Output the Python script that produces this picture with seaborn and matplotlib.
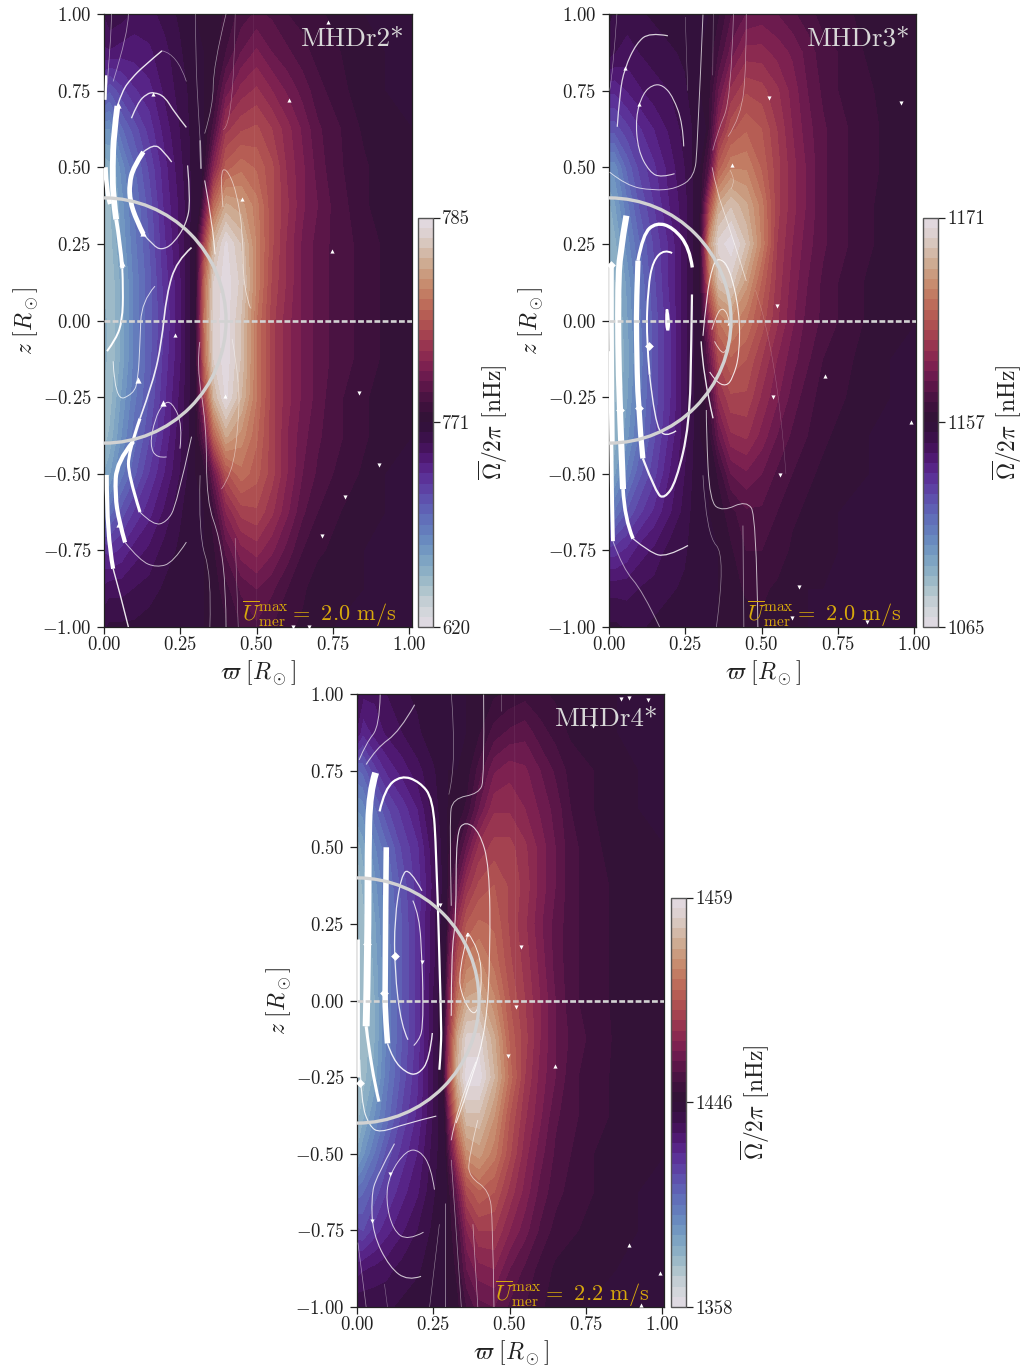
import numpy as np
import matplotlib
matplotlib.use('Agg')
import matplotlib.pyplot as plt
from matplotlib.colors import TwoSlopeNorm
from matplotlib.patches import Arc, PathPatch
from matplotlib.path import Path
import seaborn as sns

# grid of the rotation maps, values are position on the colour bar in percent
varpi = [0, .02, .06, .1, .15, .2, .25, .3, .33, .36, .4, .45, .5, .55, .6, .65, .7, .75, .85, .92, 1.01]
z_rows = [1, .875, .75, .625, .5, .375, .25, .125, 0, -.125, -.25, -.375, -.5, -.625, -.75, -.875, -1]

omega_r2 = [
    [45, 47, 46, 44, 44, 46, 48, 50, 51, 51, 53, 56, 58, 57, 55, 54, 53, 52, 50, 50, 50],
    [42, 42, 41, 41, 42, 44, 47, 50, 50, 51, 55, 60, 63, 60, 58, 56, 54, 53, 51, 50, 50],
    [32, 30, 34, 37, 39, 43, 46, 49, 50, 52, 61, 66, 68, 65, 62, 59, 56, 54, 51, 50, 50],
    [20, 20, 27, 31, 36, 41, 45, 49, 50, 56, 69, 72, 73, 70, 66, 62, 58, 56, 52, 51, 50],
    [13, 14, 21, 27, 33, 39, 44, 49, 52, 65, 76, 79, 77, 73, 67, 63, 59, 56, 53, 51, 50],
    [10, 12, 19, 25, 31, 38, 43, 49, 60, 78, 88, 86, 81, 73, 68, 63, 60, 57, 53, 51, 50],
    [10, 11, 18, 24, 30, 37, 43, 50, 72, 90, 98, 92, 82, 73, 67, 62, 59, 57, 54, 52, 50],
    [11, 10, 16, 23, 29, 36, 42, 50, 78, 95, 99, 94, 82, 72, 67, 62, 59, 57, 54, 52, 50],
    [14, 10, 16, 23, 29, 35, 42, 51, 80, 96, 99, 92, 80, 71, 66, 62, 59, 57, 54, 52, 50],
    [14, 10, 16, 23, 29, 36, 42, 51, 78, 95, 99, 92, 80, 71, 66, 62, 59, 57, 54, 52, 50],
    [11, 11, 18, 24, 30, 37, 43, 50, 72, 90, 98, 90, 80, 71, 66, 62, 59, 56, 53, 51, 50],
    [11, 13, 20, 26, 32, 38, 44, 50, 60, 77, 88, 84, 78, 71, 65, 61, 58, 56, 53, 51, 50],
    [15, 17, 24, 29, 35, 40, 45, 50, 51, 61, 74, 79, 76, 71, 65, 60, 57, 55, 52, 50, 50],
    [24, 26, 31, 35, 39, 43, 47, 50, 50, 54, 65, 71, 72, 68, 63, 58, 55, 53, 51, 50, 50],
    [37, 36, 38, 41, 43, 46, 48, 50, 50, 52, 58, 64, 66, 63, 59, 55, 53, 52, 50, 50, 50],
    [43, 44, 44, 45, 46, 48, 49, 50, 50, 51, 54, 58, 60, 58, 55, 53, 51, 51, 50, 50, 50],
    [47, 48, 48, 48, 49, 49, 50, 50, 50, 51, 52, 55, 57, 55, 53, 52, 51, 50, 50, 50, 50],
]
omega_r3 = [
    [48, 47, 46, 47, 48, 49, 49, 50, 50, 52, 57, 60, 61, 60, 58, 56, 54, 53, 52, 51, 50],
    [46, 45, 44, 45, 46, 47, 48, 50, 51, 55, 61, 66, 66, 64, 62, 59, 56, 55, 52, 51, 50],
    [38, 38, 40, 42, 44, 45, 47, 50, 52, 60, 68, 72, 71, 68, 64, 60, 57, 55, 53, 51, 50],
    [31, 31, 34, 37, 40, 43, 46, 49, 53, 66, 74, 77, 75, 70, 65, 61, 58, 56, 53, 52, 50],
    [21, 21, 28, 33, 37, 41, 45, 50, 58, 76, 82, 82, 77, 71, 66, 62, 58, 56, 53, 52, 50],
    [14, 17, 24, 30, 35, 40, 44, 51, 72, 88, 92, 88, 81, 71, 66, 62, 58, 56, 53, 51, 50],
    [13, 14, 21, 27, 33, 38, 44, 53, 85, 96, 99, 92, 82, 70, 65, 61, 58, 56, 53, 51, 50],
    [14, 12, 18, 25, 32, 38, 44, 52, 78, 92, 94, 86, 77, 69, 64, 60, 57, 55, 52, 51, 50],
    [14, 11, 17, 24, 31, 37, 44, 50, 67, 80, 84, 80, 74, 68, 63, 59, 57, 55, 52, 51, 50],
    [13, 11, 16, 23, 31, 37, 44, 50, 60, 73, 77, 75, 70, 65, 61, 58, 55, 54, 51, 50, 50],
    [20, 12, 17, 24, 31, 37, 44, 50, 55, 67, 72, 72, 67, 63, 59, 56, 54, 53, 51, 50, 50],
    [15, 13, 19, 25, 32, 38, 44, 50, 52, 60, 67, 68, 64, 60, 57, 55, 53, 52, 50, 50, 50],
    [13, 17, 23, 29, 34, 40, 45, 50, 50, 53, 60, 62, 60, 57, 55, 53, 52, 51, 50, 50, 50],
    [24, 25, 30, 34, 38, 42, 46, 50, 50, 51, 54, 57, 57, 55, 53, 52, 51, 50, 50, 50, 50],
    [36, 36, 38, 41, 43, 46, 47, 50, 50, 50, 52, 55, 55, 54, 52, 51, 51, 50, 50, 50, 50],
    [44, 44, 44, 45, 46, 47, 48, 49, 50, 50, 51, 53, 53, 52, 51, 50, 50, 50, 50, 50, 50],
    [48, 48, 47, 47, 48, 49, 49, 50, 50, 50, 51, 51, 52, 51, 51, 50, 50, 50, 50, 50, 50],
]
omega_r4 = [
    [46, 43, 43, 45, 47, 48, 49, 50, 50, 50, 51, 52, 53, 54, 53, 52, 51, 51, 50, 50, 50],
    [42, 38, 41, 43, 45, 47, 49, 50, 50, 50, 52, 56, 58, 59, 56, 54, 52, 51, 50, 50, 50],
    [27, 28, 34, 38, 41, 44, 47, 50, 50, 51, 56, 62, 64, 63, 60, 57, 54, 53, 51, 50, 50],
    [20, 21, 27, 32, 36, 40, 46, 51, 51, 53, 60, 67, 67, 65, 62, 59, 55, 53, 51, 50, 50],
    [13, 16, 22, 27, 33, 37, 44, 52, 54, 60, 68, 71, 71, 68, 64, 60, 56, 54, 51, 51, 50],
    [9, 13, 19, 25, 31, 36, 43, 54, 60, 68, 73, 75, 72, 69, 64, 60, 56, 54, 52, 51, 50],
    [12, 11, 17, 24, 30, 36, 44, 56, 68, 75, 78, 77, 72, 68, 63, 59, 56, 54, 52, 51, 50],
    [14, 10, 16, 23, 30, 36, 44, 60, 74, 81, 83, 79, 73, 69, 64, 59, 56, 54, 52, 51, 50],
    [14, 10, 15, 23, 30, 36, 45, 64, 80, 88, 89, 83, 75, 70, 65, 60, 56, 54, 52, 51, 50],
    [12, 10, 15, 23, 30, 36, 45, 68, 88, 96, 96, 88, 77, 71, 65, 60, 57, 55, 52, 51, 50],
    [10, 11, 16, 24, 31, 37, 45, 70, 90, 99, 99, 90, 79, 70, 64, 60, 56, 54, 52, 51, 50],
    [11, 14, 20, 26, 33, 38, 45, 62, 83, 92, 92, 85, 75, 68, 63, 58, 56, 54, 52, 51, 50],
    [15, 19, 25, 31, 36, 40, 46, 56, 72, 84, 86, 81, 73, 66, 61, 57, 55, 53, 51, 51, 50],
    [26, 27, 31, 35, 39, 42, 47, 51, 61, 73, 77, 75, 69, 64, 59, 56, 54, 53, 51, 50, 50],
    [33, 32, 36, 39, 42, 45, 48, 51, 55, 65, 70, 70, 65, 61, 57, 54, 53, 52, 51, 50, 50],
    [41, 42, 43, 44, 46, 47, 49, 51, 53, 60, 64, 65, 60, 57, 54, 52, 51, 51, 50, 50, 50],
    [47, 47, 47, 47, 48, 49, 49, 50, 52, 55, 59, 60, 57, 55, 53, 51, 51, 50, 50, 50, 50],
]

cbar_r2 = [620, 771, 785]
cbar_r3 = [1065, 1157, 1171]
cbar_r4 = [1358, 1446, 1459]

# streamlines as (varpi, z)
paths_r2 = [
    [(.044, .70), (.032, .61), (.028, .50), (.03, .40), (.04, .33)],
    [(.04, .33), (.052, .26), (.06, .17)],
    [(.06, .17), (.063, .10), (.06, 0), (.04, -.06), (.01, -.1)],
    [(.044, .70), (.06, .75), (.09, .79), (.13, .83), (.19, .88)],
    [(.19, .88), (.24, .87), (.27, .78)],
    [(.007, .8), (.005, .72)],
    [(.005, .50), (.008, .42), (.02, .38)],
    [(.09, .66), (.11, .71), (.14, .74), (.165, .745), (.2, .73), (.23, .68), (.27, .63)],
    [(.222, .517), (.194, .555), (.162, .577), (.129, .55)],
    [(.129, .55), (.096, .50), (.083, .446), (.085, .39), (.107, .326), (.129, .282)],
    [(.129, .282), (.162, .244), (.189, .23), (.227, .25), (.27, .315), (.284, .39), (.274, .506)],
    [(.318, .495), (.315, .588)],
    [(.315, .588), (.31, .67), (.30, .86), (.30, 1.0)],
    [(.33, .457), (.358, .304), (.364, .216)],
    [(.33, .61), (.358, .70), (.358, .83), (.40, 1.0)],
    [(.39, .623), (.425, .63), (.43, 1.0)],
    [(.03, .78), (.08, .94), (.08, 1)],
    [(.005, .72), (.02, .85), (.025, 1.0)],
    [(.39, .37), (.38, .48), (.40, .50), (.434, .424), (.456, .282), (.456, .107), (.48, .04)],
    [(.287, .238), (.238, .195), (.205, .085), (.189, -.07), (.162, -.198), (.118, -.32)],
    [(.118, -.32), (.08, -.43), (.08, -.505), (.118, -.625)],
    [(.118, -.625), (.162, -.669), (.205, -.658), (.238, -.603), (.287, -.379)],
    [(.096, -.395), (.041, -.46), (.036, -.57), (.05, -.658), (.069, -.724)],
    [(.069, -.724), (.118, -.784), (.172, -.806), (.227, -.79), (.27, -.723)],
    [(.009, -.504), (.009, -.70), (.03, -.81)],
    [(.03, -.81), (.052, -.888), (.08, -1)],
    [(.03, -.133), (.036, -.264), (.096, -.24), (.112, -.193), (.118, -.068), (.123, .063), (.167, .112)],
    [(.205, -.445), (.172, -.45), (.15, -.406), (.167, -.32), (.194, -.27), (.222, -.264), (.258, -.34), (.249, -.418)],
    [(.314, -.07), (.303, -.145), (.336, -.34), (.336, -.59), (.38, -.71), (.40, -.88), (.40, -1)],
    [(.315, -.505), (.309, -.70), (.353, -.83), (.347, -1)],
    [(.43, -.71), (.44, -1)],
    [(.42, -.06), (.445, -.2), (.44, -.35), (.42, -.5), (.385, -.55)],
    [(.49, 1), (.5, 0), (.5, -1)],
]
widths_r2 = [4.2, 2.8, 1.4, 1.0, .5, 1.6, 3.2, 1.0, 1.0, 3.4, .9, 1.2, .5, .8, .5, .4, .6, .5, .6, 1.2, 2.2,
             .7, 3.0, .7, 3.0, 1.0, .7, .7, .6, .5, .4, .5, .3]
alphas_r2 = [1, 1, 1, .9, .5, 1, 1, .85, .85, 1, .8, .6, .45, .8, .55, .4, .5, .55, .6, .9, 1, .75, 1, .7, 1, .9,
             .75, .75, .65, .55, .5, .5, .12]
arrows_up_r2 = [(.733, .974), (.605, .718), (.748, .228), (.161, .74), (.451, .395), (.234, -.046), (.396, -.246)]
arrows_dn_r2 = [(.835, -.235), (.90, -.472), (.79, -.576), (.713, -.702), (.618, -1), (.672, -1)]
arrows_big_r2 = [(.047, .703), (.06, .186), (.129, .285), (.05, -.663), (.194, -.27), (.112, -.193)]

paths_r3 = [
    [(.026, 1.0), (.012, .80), (.002, .75)],
    [(.027, .632), (.035, .741), (.051, .823), (.09, .905), (.133, .94), (.193, .929)],
    [(.245, .568), (.242, .643), (.21, .73), (.177, .768), (.144, .77), (.111, .741), (.087, .664), (.095, .555),
     (.133, .484), (.171, .466), (.215, .479)],
    [(.002, .484), (.057, .44), (.144, .424), (.22, .43), (.28, .468), (.29, .566), (.308, .998)],
    [(.008, .184), (.008, .08), (.008, -.10), (.011, -.40)],
    [(.057, .342), (.035, .216), (.03, .107), (.03, -.07), (.035, -.286), (.046, -.55)],
    [(.046, -.55), (.051, -.647), (.079, -.712)],
    [(.079, -.712), (.133, -.756), (.188, -.773), (.259, -.734)],
    [(.273, .173), (.264, .238), (.21, .304), (.155, .32), (.111, .282), (.095, .195)],
    [(.095, .195), (.09, .063), (.09, -.05), (.095, -.286), (.111, -.45)],
    [(.111, -.45), (.155, -.565), (.182, -.581), (.22, -.527), (.264, -.341), (.27, -.068), (.272, .085)],
    [(.207, .22), (.182, .233), (.144, .195), (.128, .107), (.122, -.05), (.133, -.177)],
    [(.133, -.177), (.15, -.33), (.182, -.385), (.22, -.36)],
    [(.19, .036), (.186, 0), (.193, -.042), (.198, 0), (.19, .036)],
    [(.337, -.03), (.352, .02), (.373, .044), (.395, .009), (.395, -.068), (.373, -.122), (.346, -.068)],
    [(.308, -.05), (.319, .074), (.34, .184), (.362, .205), (.395, .173), (.428, .03), (.428, -.111), (.406, -.188),
     (.384, -.215), (.351, -.2), (.33, -.168)],
    [(.302, -.068), (.308, -.177), (.341, -.319)],
    [(.319, -.292), (.319, -.36), (.33, -.592), (.373, -.623), (.45, -.587), (.483, -.636), (.488, -1)],
    [(.308, -.505), (.319, -.70), (.384, -.767), (.352, -1)],
    [(.439, -.669), (.442, -1)],
    [(.005, -.10), (.007, -.5), (.013, -.72)],
    [(.013, -.72), (.046, -.81), (.11, -.882), (.166, -1)],
    [(.34, .8), (.342, 1)],
    [(.39, .6), (.433, .664), (.45, .828), (.45, 1)],
    [(.34, .555), (.357, .62), (.40, .72), (.408, 1)],
    [(.338, .5), (.352, .424), (.395, .304), (.45, .129)],
    [(.397, .49), (.417, .457), (.40, .43)],
    [(.48, .1), (.55, -.1), (.58, -.5)],
    [(.258, .75), (.25, .99)],
]
widths_r3 = [.4, .9, .8, .7, 3.4, 4.4, 2.6, .9, 2.4, 3.8, 1.6, 1.4, 1.0, 1.8, .7, .8, 1.0, .7, .5, .6, 2.8, .7,
             .4, .5, .5, .6, .4, .3, .4]
alphas_r3 = [.5, .8, .8, .7, 1, 1, 1, .85, 1, 1, .95, 1, .9, 1, .7, .85, .9, .7, .45, .5, 1, .55, .4, .5, .5, .6,
             .5, .3, .4]
arrows_up_r3 = [(.051, .823), (.098, .706), (.403, .506), (.708, -.18), (.991, -.332), (.395, -.008)]
arrows_dn_r3 = [(.524, .725), (.956, .708), (.552, .047), (.537, -.251), (.56, -.503), (.623, -.869), (.60, -.97),
                (.845, -.984)]
arrows_big_r3 = [(.008, .181), (.13, -.084), (.097, -.286), (.035, -.292)]

paths_r4 = [
    [(.007, .785), (.03, .84), (.074, .894), (.076, .998)],
    [(.03, .77), (.063, .823), (.14, .878), (.189, .965)],
    [(.061, .743), (.041, .68), (.036, .484), (.036, .178), (.03, -.084)],
    [(.03, -.084), (.047, -.226), (.072, -.33)],
    [(.074, .617), (.091, .692), (.145, .735), (.205, .714), (.249, .659), (.26, .484), (.276, -.062), (.276, -.15),
     (.27, -.226)],
    [(.096, .50), (.091, .025), (.094, -.062), (.10, -.14)],
    [(.10, -.14), (.118, -.193), (.162, -.237), (.2, -.243), (.238, -.193), (.247, -.106)],
    [(.213, .358), (.172, .432), (.145, .408), (.123, .266), (.123, .102), (.145, -.084), (.167, -.128)],
    [(.183, .326), (.205, .277), (.213, .123), (.216, .047), (.216, -.084), (.205, -.128), (.186, -.147)],
    [(.309, .309), (.303, .593), (.314, .659), (.40, .675), (.418, .725), (.415, .998)],
    [(.301, .672), (.328, .779), (.309, 1)],
    [(.309, -.05), (.309, .156), (.325, .266), (.325, .55), (.356, .586), (.402, .55), (.434, .44), (.437, .156),
     (.424, -.084), (.38, -.248), (.325, -.40)],
    [(.364, .22), (.402, .167), (.41, .047), (.39, -.06), (.347, .003), (.33, .09), (.364, .22)],
    [(.009, -.193), (.014, -.335), (.041, -.41), (.074, -.432), (.162, -.401), (.26, -.377)],
    [(.123, -.467), (.063, -.576), (.047, -.64), (.052, -.762), (.107, -.871), (.167, -.915), (.21, -.9)],
    [(.254, -.617), (.243, -.543), (.205, -.488), (.162, -.488), (.107, -.565), (.094, -.652), (.118, -.75),
     (.167, -.784), (.218, -.756)],
    [(.396, -.39), (.364, -.52), (.369, -.576), (.434, -.62), (.445, -.718), (.449, -1)],
    [(.309, -.456), (.325, -.357), (.39, -.2)],
    [(.309, -.52), (.342, -1)],
    [(.38, -.73), (.396, -1)],
    [(.287, -.66), (.287, -1)],
    [(.27, -.73), (.238, -1)],
    [(.003, -.79), (.03, -1)],
    [(.09, -.925), (.1, -1)],
    [(.473, 1), (.473, .943)],
    [(.517, 1), (.52, 0)],
    [(.004, .2), (.004, -.25)],
]
widths_r4 = [.7, .8, 5.0, 2.2, 1.6, 4.0, 1.0, .9, .8, .7, .5, .8, .7, .8, .8, .7, .6, .7, .5, .5, .5, .4, .5, .4,
             .4, .3, 2.0]
alphas_r4 = [.7, .7, 1, 1, 1, 1, .9, .85, .8, .7, .45, .8, .85, .85, .75, .75, .6, .7, .5, .55, .6, .5, .5, .4,
             .4, .15, 1]
arrows_up_r4 = [(.36, .216), (.648, -.213), (.89, -.798), (.992, -.888), (.931, -.993)]
arrows_dn_r4 = [(.866, .984), (.893, .987), (.953, .979), (.773, .894), (.536, .176), (.52, -.02), (.213, .126),
                (.495, -.18), (.273, .313), (.107, -.565), (.049, -.72)]
arrows_big_r4 = [(.125, .145), (.09, .025), (.033, .184), (.009, -.27)]

sns.set_theme(style='ticks')
plt.rcParams['font.family'] = ['cmr10', 'DejaVu Serif']
plt.rcParams['mathtext.fontset'] = 'cm'
plt.rcParams['axes.formatter.use_mathtext'] = True
plt.rcParams['axes.unicode_minus'] = False

W, H = 1025, 1369
fig = plt.figure(figsize=(W / 100, H / 100), dpi=100)


def box(l, t, r, b):
    # pixel box of the picture -> figure fractions
    return [l / W, 1 - b / H, (r - l) / W, (b - t) / H]


def stream_patch(path, lw, al):
    # read points are the control points of quadratic segments, so the line bends like a streamline
    if len(path) == 2:
        verts, codes = list(path), [Path.MOVETO, Path.LINETO]
    else:
        verts, codes = [path[0]], [Path.MOVETO]
        for a, b in zip(path[1:-1], path[2:]):
            end = b if b == path[-1] else ((a[0] + b[0]) / 2, (a[1] + b[1]) / 2)
            verts += [a, end]
            codes += [Path.CURVE3, Path.CURVE3]
    return PathPatch(Path(verts, codes), fill=False, edgecolor='white', lw=lw, alpha=al, capstyle='butt', zorder=3)


def draw_panel(ax_box, cax_box, field, cbar, name, speed, paths, widths, alphas, ups, downs, bigs, big_marker):
    ax = fig.add_axes(box(*ax_box))
    cax = fig.add_axes(box(*cax_box))

    norm = TwoSlopeNorm(vmin=cbar[0], vcenter=cbar[1], vmax=cbar[2])
    values = norm.inverse(np.array(field) / 100)
    levels = norm.inverse(np.linspace(0, 1, 41))
    cf = ax.contourf(varpi, z_rows, values, levels=levels, cmap='twilight', norm=norm)

    for path, lw, al in zip(paths, widths, alphas):
        ax.add_patch(stream_patch(path, lw, al))
    for pts, mk, sz in ((ups, '^', 9), (downs, 'v', 9), (bigs, big_marker, 20)):
        sns.scatterplot(x=[p[0] for p in pts], y=[p[1] for p in pts], marker=mk, s=sz, color='white',
                        linewidth=0, ax=ax, clip_on=False, zorder=4)

    # tachocline and equator
    ax.add_patch(Arc((0, 0), .8, .8, theta1=-90, theta2=90, color='#d2d2d2', lw=2.4, zorder=5))
    ax.axhline(0, color='#d2d2d2', lw=1.9, ls=(0, (2.2, .9)), zorder=5)

    ax.set_xlim(0, 1.008)
    ax.set_ylim(-1, 1)
    ax.set_xticks([0, .25, .5, .75, 1])
    ax.set_xticklabels([f'${v:.2f}$' for v in [0, .25, .5, .75, 1]])
    ax.set_yticks(np.arange(-1, 1.01, .25))
    ax.set_yticklabels([f'${v:.2f}$' for v in np.arange(-1, 1.01, .25)])
    ax.tick_params(labelsize=13.5, length=5, width=.9, color='#222222', labelcolor='#222222')
    ax.tick_params(axis='x', pad=1.5)
    ax.tick_params(axis='y', pad=4)
    ax.set_xlabel(r'$\varpi\ [R_\odot]$', fontsize=17, labelpad=3, color='#222222')
    ax.set_ylabel(r'$z\ [R_\odot]$', fontsize=17, labelpad=2, color='#222222')
    for s in ax.spines.values():
        s.set_visible(True)
        s.set_linewidth(.9)
        s.set_color('#222222')

    ax.text(.976, .979, name, transform=ax.transAxes, ha='right', va='top', fontsize=19.5, color='#d8d8d8', zorder=6)
    ax.text(.95, -.003, r'$\overline{U}_{\rm mer}^{\rm max} =$' + f' {speed} m/s', transform=ax.transAxes,
            ha='right', va='bottom', fontsize=16, color='#d8a90c', zorder=6)

    cb = fig.colorbar(cf, cax=cax, ticks=cbar)
    cb.ax.set_yticklabels([str(v) for v in cbar])
    cb.ax.tick_params(labelsize=13.5, length=5, width=.9, color='#222222', pad=2, labelcolor='#222222')
    cb.outline.set_edgecolor('#555555')
    cb.outline.set_linewidth(1.0)
    cb.set_label(r'$\overline{\Omega}/2\pi$ [nHz]', fontsize=17, labelpad=4, color='#222222')
    return ax


draw_panel((104, 14, 411.5, 627), (417.5, 217.5, 432.5, 627), omega_r2, cbar_r2, 'MHDr2*', '2.0',
           paths_r2, widths_r2, alphas_r2, arrows_up_r2, arrows_dn_r2, arrows_big_r2, '^')
draw_panel((609, 14, 916.5, 627), (922.5, 217.5, 937.5, 627), omega_r3, cbar_r3, 'MHDr3*', '2.0',
           paths_r3, widths_r3, alphas_r3, arrows_up_r3, arrows_dn_r3, arrows_big_r3, 'D')
draw_panel((357, 694, 664.5, 1307), (670.5, 897.5, 685.5, 1307), omega_r4, cbar_r4, 'MHDr4*', '2.2',
           paths_r4, widths_r4, alphas_r4, arrows_up_r4, arrows_dn_r4, arrows_big_r4, 'D')

plt.savefig('out.png', dpi=100)
